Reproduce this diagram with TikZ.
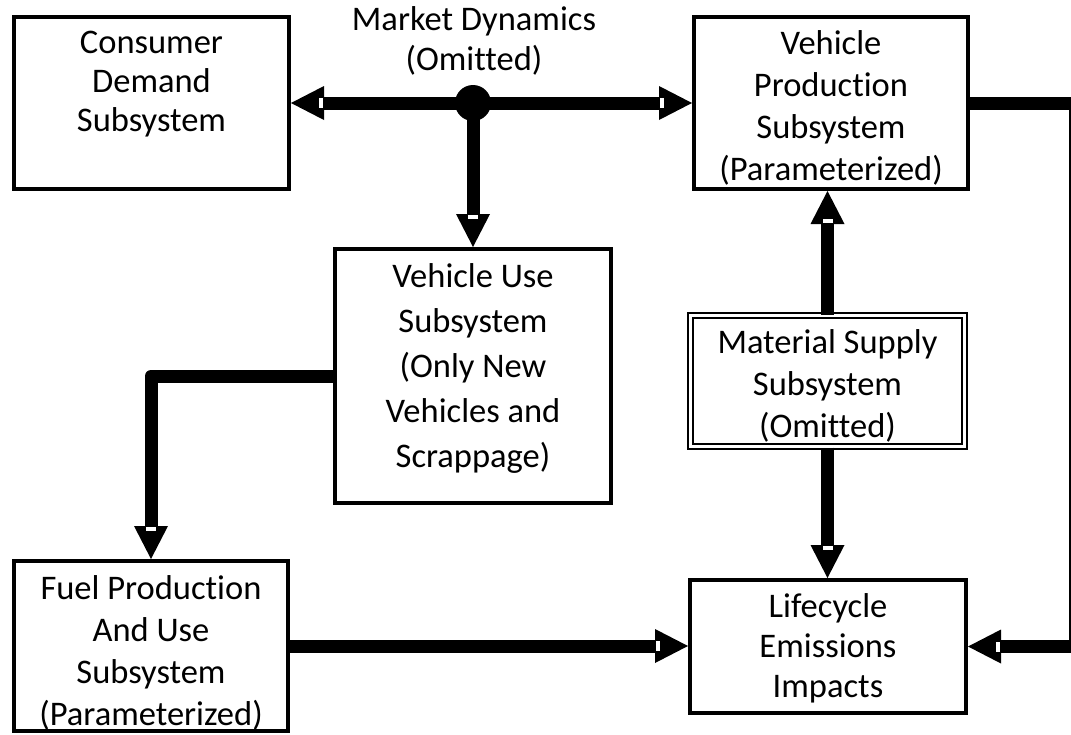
\documentclass[tikz,border=0pt]{standalone}
\usepackage{fontspec}
\setmainfont{Carlito}[Ligatures=NoCommon]
\usetikzlibrary{arrows.meta,calc}
\begin{document}
\begin{tikzpicture}[x=1pt,y=-1pt,
  txt/.style={font=\fontsize{34.5}{42}\selectfont, align=center, inner sep=0pt},
  box/.style={draw, line width=4pt, inner sep=0pt},
  dbox/.style={draw, line width=2pt, double, double distance=3pt, inner sep=0pt},
  flow/.style={line width=13pt, line join=round, -{Triangle[length=33pt,width=34pt,line width=0pt]}},
  nh/.style={fill=white, inner sep=0pt, minimum width=4pt, minimum height=10pt},
  nv/.style={fill=white, inner sep=0pt, minimum width=10pt, minimum height=4pt}]
\useasboundingbox (0,0) rectangle (1071,734);
% boxes
\node[box, minimum width=275pt, minimum height=172pt] (cd) at (151.5,103) {};
\node[box, minimum width=274pt, minimum height=172pt] (vp) at (831,103) {};
\node[box, minimum width=276pt, minimum height=254pt] (vu) at (473,376) {};
\node[dbox, minimum width=274pt, minimum height=131pt] (ms) at (827.5,381) {};
\node[box, minimum width=274pt, minimum height=170pt] (fp) at (151,646) {};
\node[box, minimum width=276pt, minimum height=133pt] (lc) at (828,646.5) {};
% texts
\node[txt, font=\fontsize{34.5}{39}\selectfont] (cdt) at (151.5,84) {Consumer\\Demand\\Subsystem};
\node[txt] (vpt) at (831,108) {Vehicle\\Production\\Subsystem\\(Parameterized)};
\node[txt, font=\fontsize{34.5}{45}\selectfont] (vut) at (473,368) {Vehicle Use\\Subsystem\\(Only New\\Vehicles and\\Scrappage)};
\node[txt] (mst) at (827.5,386) {Material Supply\\Subsystem\\(Omitted)};
\node[txt] (fpt) at (151,653) {Fuel Production\\And Use\\Subsystem\\(Parameterized)};
\node[txt, font=\fontsize{34.5}{40}\selectfont] (lct) at (828,648) {Lifecycle\\Emissions\\Impacts};
\node[txt, font=\fontsize{34.5}{40}\selectfont] (md) at (474,41) {Market Dynamics\\(Omitted)};
% junction
\node[circle, fill, inner sep=0pt, minimum size=36pt] (dot) at (473,103) {};
\coordinate (rb) at (1075,646.5);
% connectors
\draw[flow] (dot.center) -- (cd.east);
\draw[flow] (dot.center) -- (vp.west);
\draw[flow] (dot.center) -- (vu.north);
\draw[flow] (vu.west) -| (fp.north);
\draw[flow] (ms.north) -- (ms.north |- vp.south);
\draw[flow] (ms.south) -- (ms.south |- lc.north);
\draw[flow] (fp.east) -- (fp.east -| lc.west);
\draw[flow] (vp.east) -| (rb) -- (lc.east);
% white notches at arrow bases
\path (cd.east) ++(30,0) node[nh] (n1) {};
\path (vp.west) ++(-30,0) node[nh] (n2) {};
\path (vu.north) ++(0,-30) node[nv] (n3) {};
\path (fp.north) ++(0,-30) node[nv] (n4) {};
\path (ms.north |- vp.south) ++(0,30) node[nv] (n5) {};
\path (ms.south |- lc.north) ++(0,-30) node[nv] (n6) {};
\path (fp.east -| lc.west) ++(-30,0) node[nh] (n7) {};
\path (lc.east) ++(30,0) node[nh] (n8) {};
\end{tikzpicture}
\end{document}
